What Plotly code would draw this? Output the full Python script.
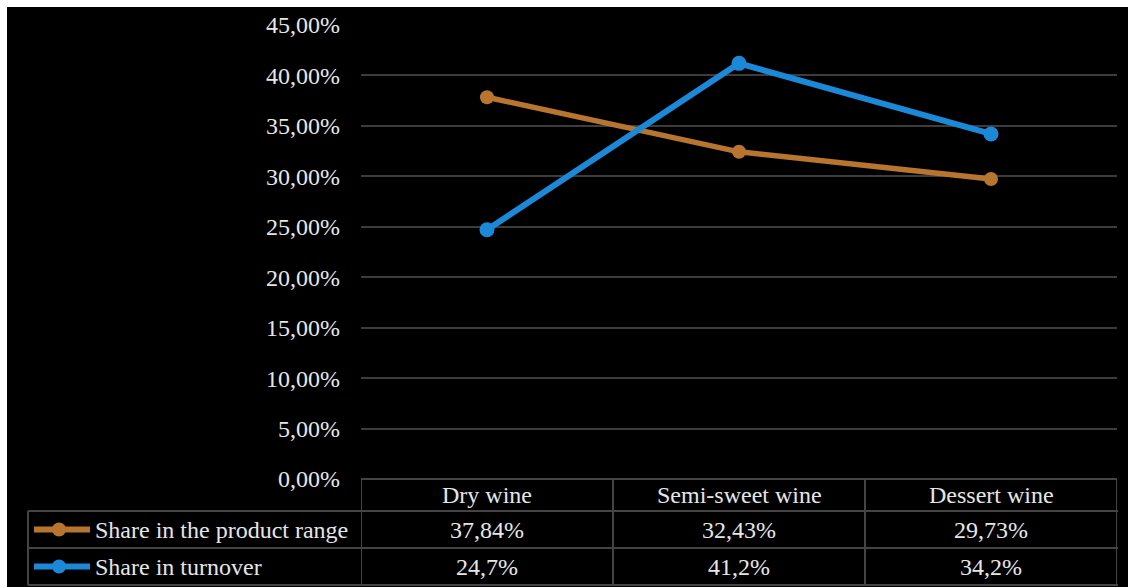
import plotly.graph_objects as go

# Wine categories and the two shares (in percent)
categories = ["Dry wine", "Semi-sweet wine", "Dessert wine"]
share_range = [37.84, 32.43, 29.73]
share_turnover = [24.7, 41.2, 34.2]
series_names = ["Share in the product range", "Share in turnover"]
y_ticks = [0, 5, 10, 15, 20, 25, 30, 35, 40, 45]

W, H = 1128, 587
ORANGE = "#B8752F"
BLUE = "#1B88D8"
TEXT = "#E6E6E6"
GRID = "#3C3C3C"
TABLE = "#444444"
FONT = "Liberation Serif"
FS = 24


def fx(x):
    return x / W


def fy(y):
    return 1 - y / H


def pct(v, d):
    return f"{v:.{d}f}".replace(".", ",") + "%"


fig = go.Figure()
fig.add_trace(go.Scatter(x=categories, y=share_range, mode="lines+markers",
                         name=series_names[0],
                         line=dict(color=ORANGE, width=5.5),
                         marker=dict(color=ORANGE, size=14)))
fig.add_trace(go.Scatter(x=categories, y=share_turnover, mode="lines+markers",
                         name=series_names[1],
                         line=dict(color=BLUE, width=6),
                         marker=dict(color=BLUE, size=15)))

shapes = []
# dark chart panel
shapes.append(dict(type="rect", xref="paper", yref="paper", layer="below",
                   x0=fx(7), x1=1, y0=0, y1=fy(7),
                   fillcolor="black", line=dict(width=0)))

# data table under the plot
row_top, row1, row2, row_bot = 479, 511, 548, 585
left_x = 28
line_style = dict(color=TABLE, width=2)
for y in (row1, row2, row_bot):
    shapes.append(dict(type="line", xref="paper", yref="paper",
                       x0=fx(left_x), x1=fx(1118), y0=fy(y), y1=fy(y), line=line_style))
shapes.append(dict(type="line", xref="x", yref="paper",
                   x0=-0.5, x1=len(categories) - 0.5, y0=fy(row_top), y1=fy(row_top), line=line_style))
for i in range(len(categories) + 1):
    shapes.append(dict(type="line", xref="x", yref="paper",
                       x0=i - 0.5, x1=i - 0.5, y0=fy(row_top), y1=fy(row_bot), line=line_style))
shapes.append(dict(type="line", xref="paper", yref="paper",
                   x0=fx(left_x), x1=fx(left_x), y0=fy(row1), y1=fy(row_bot), line=line_style))

annotations = []
font = dict(family=FONT, size=FS, color=TEXT)
header_y = (row_top + row1) / 2
r1_y = (row1 + row2) / 2
r2_y = (row2 + row_bot) / 2
for i, c in enumerate(categories):
    annotations.append(dict(x=c, y=fy(header_y), xref="x", yref="paper", text=c,
                            showarrow=False, font=font, xanchor="center", yanchor="middle"))
    annotations.append(dict(x=c, y=fy(r1_y), xref="x", yref="paper", text=pct(share_range[i], 2),
                            showarrow=False, font=font, xanchor="center", yanchor="middle"))
    annotations.append(dict(x=c, y=fy(r2_y), xref="x", yref="paper", text=pct(share_turnover[i], 1),
                            showarrow=False, font=font, xanchor="center", yanchor="middle"))

# legend keys inside the table
for name, col, yc in ((series_names[0], ORANGE, r1_y), (series_names[1], BLUE, r2_y)):
    shapes.append(dict(type="line", xref="paper", yref="paper",
                       x0=fx(34), x1=fx(90), y0=fy(yc), y1=fy(yc),
                       line=dict(color=col, width=6)))
    shapes.append(dict(type="circle", xref="paper", yref="paper",
                       x0=fx(52), x1=fx(66), y0=fy(yc + 7), y1=fy(yc - 7),
                       fillcolor=col, line=dict(width=0)))
    annotations.append(dict(x=fx(93), y=fy(yc), xref="paper", yref="paper", text=name,
                            showarrow=False, font=font, xanchor="left", yanchor="middle"))

fig.update_layout(
    template="none",
    width=W, height=H,
    margin=dict(l=0, r=0, t=0, b=0, pad=0, autoexpand=False),
    paper_bgcolor="white",
    plot_bgcolor="rgba(0,0,0,0)",
    showlegend=False,
    shapes=shapes,
    annotations=annotations,
    xaxis=dict(domain=[fx(361), fx(1117)], range=[-0.5, len(categories) - 0.5],
               showgrid=False, showticklabels=False, zeroline=False, showline=False,
               automargin=False, fixedrange=True),
    yaxis=dict(domain=[fy(479), fy(25)], range=[0, 45], tickmode="array",
               tickvals=y_ticks, ticktext=[pct(v, 2) for v in y_ticks],
               showgrid=True, gridcolor=GRID, gridwidth=2,
               zeroline=False, showline=False, ticks="", ticklabelstandoff=20,
               automargin=False,
               tickfont=dict(family=FONT, size=FS, color=TEXT), fixedrange=True),
)

fig.write_html("out.html", config={"displayModeBar": False})
